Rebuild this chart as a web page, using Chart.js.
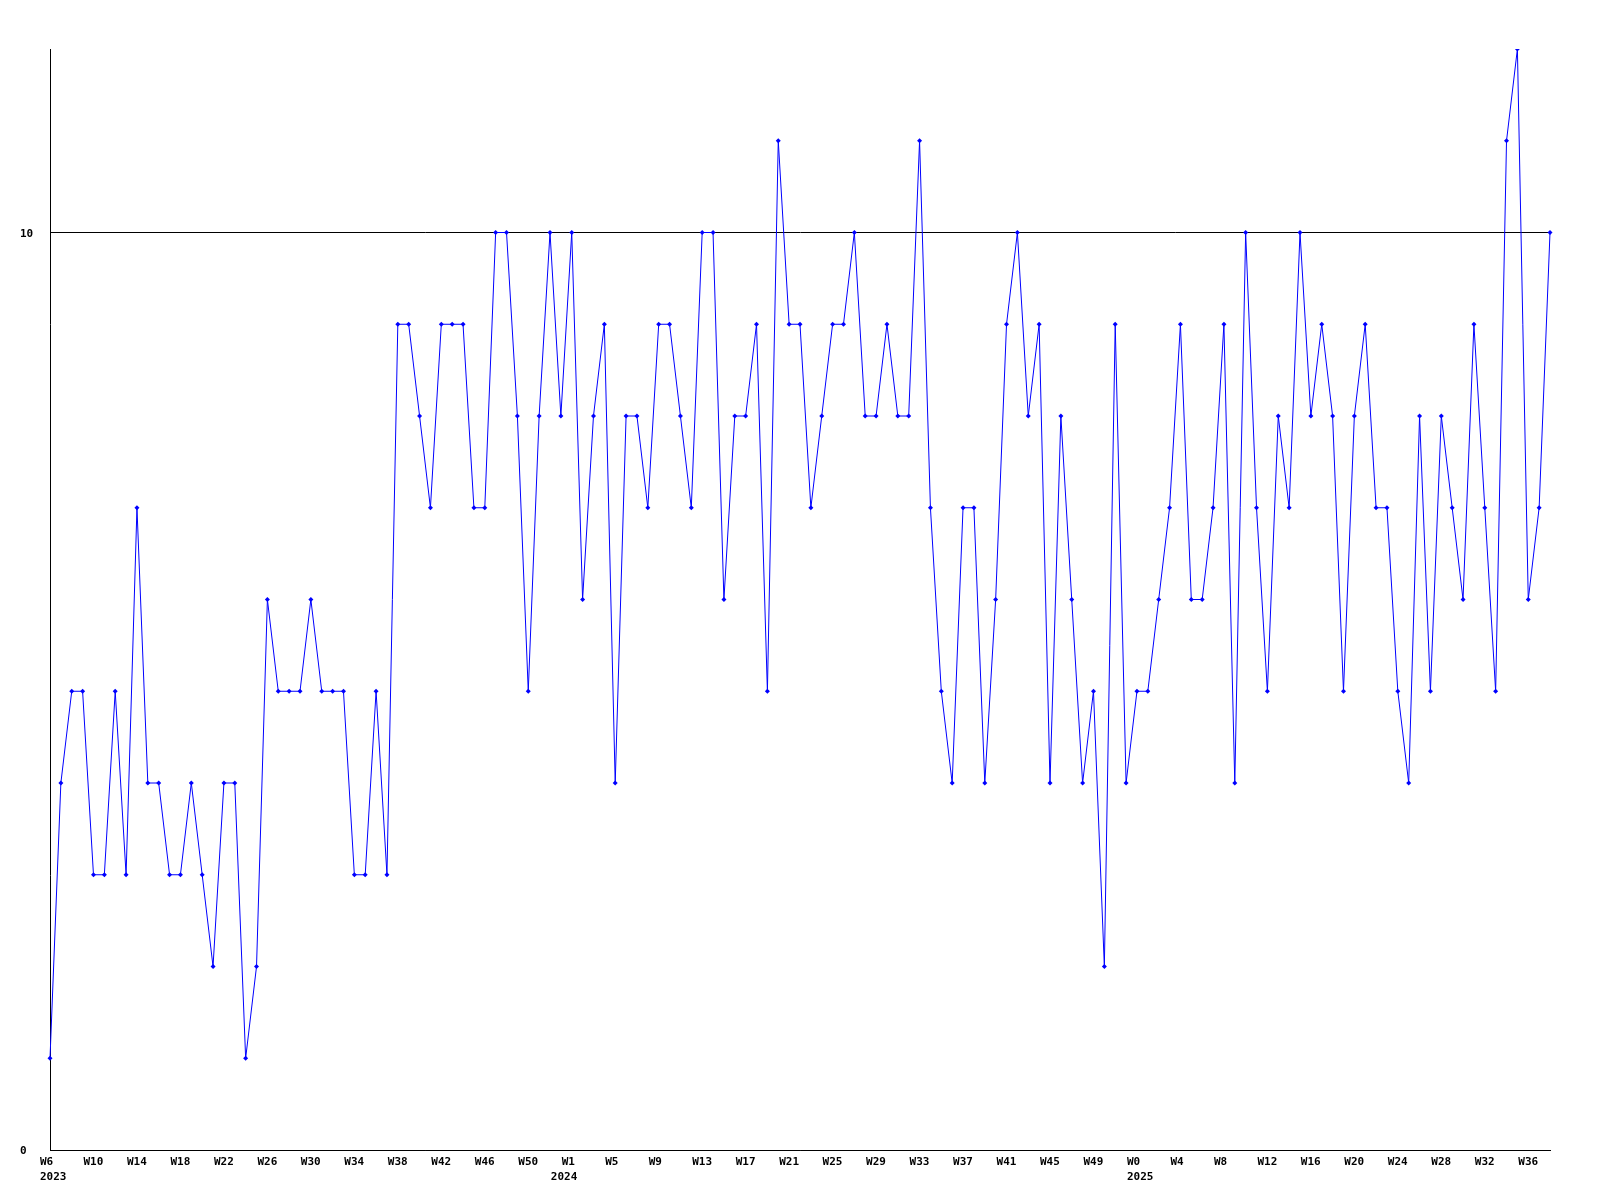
<!DOCTYPE html>
<html>
<head>
<meta charset="utf-8">
<script src="https://cdn.jsdelivr.net/npm/chart.js@4.4.1/dist/chart.umd.min.js"></script>
<style>
    html, body { margin: 0; padding: 0; background: #fff; }
    canvas { display: block; }
</style>
</head>
<body>
<canvas id="weeklyChart" width="1600" height="1200"></canvas>
<script>
// ── Data ──
const categories = [
    '2023-W6', '2023-W7', '2023-W8', '2023-W9', '2023-W10', '2023-W11', '2023-W12', '2023-W13', '2023-W14', '2023-W15',
    '2023-W16', '2023-W17', '2023-W18', '2023-W19', '2023-W20', '2023-W21', '2023-W22', '2023-W23', '2023-W24', '2023-W25',
    '2023-W26', '2023-W27', '2023-W28', '2023-W29', '2023-W30', '2023-W31', '2023-W32', '2023-W33', '2023-W34', '2023-W35',
    '2023-W36', '2023-W37', '2023-W38', '2023-W39', '2023-W40', '2023-W41', '2023-W42', '2023-W43', '2023-W44', '2023-W45',
    '2023-W46', '2023-W47', '2023-W48', '2023-W49', '2023-W50', '2023-W51', '2023-W52', '2024-W0', '2024-W1', '2024-W2',
    '2024-W3', '2024-W4', '2024-W5', '2024-W6', '2024-W7', '2024-W8', '2024-W9', '2024-W10', '2024-W11', '2024-W12',
    '2024-W13', '2024-W14', '2024-W15', '2024-W16', '2024-W17', '2024-W18', '2024-W19', '2024-W20', '2024-W21', '2024-W22',
    '2024-W23', '2024-W24', '2024-W25', '2024-W26', '2024-W27', '2024-W28', '2024-W29', '2024-W30', '2024-W31', '2024-W32',
    '2024-W33', '2024-W34', '2024-W35', '2024-W36', '2024-W37', '2024-W38', '2024-W39', '2024-W40', '2024-W41', '2024-W42',
    '2024-W43', '2024-W44', '2024-W45', '2024-W46', '2024-W47', '2024-W48', '2024-W49', '2024-W50', '2024-W51', '2024-W52',
    '2025-W0', '2025-W1', '2025-W2', '2025-W3', '2025-W4', '2025-W5', '2025-W6', '2025-W7', '2025-W8', '2025-W9',
    '2025-W10', '2025-W11', '2025-W12', '2025-W13', '2025-W14', '2025-W15', '2025-W16', '2025-W17', '2025-W18', '2025-W19',
    '2025-W20', '2025-W21', '2025-W22', '2025-W23', '2025-W24', '2025-W25', '2025-W26', '2025-W27', '2025-W28', '2025-W29',
    '2025-W30', '2025-W31', '2025-W32', '2025-W33', '2025-W34', '2025-W35', '2025-W36', '2025-W37', '2025-W38'
];

const weeklyValues = [
    1, 4, 5, 5, 3, 3, 5, 3, 7, 4,
    4, 3, 3, 4, 3, 2, 4, 4, 1, 2,
    6, 5, 5, 5, 6, 5, 5, 5, 3, 3,
    5, 3, 9, 9, 8, 7, 9, 9, 9, 7,
    7, 10, 10, 8, 5, 8, 10, 8, 10, 6,
    8, 9, 4, 8, 8, 7, 9, 9, 8, 7,
    10, 10, 6, 8, 8, 9, 5, 11, 9, 9,
    7, 8, 9, 9, 10, 8, 8, 9, 8, 8,
    11, 7, 5, 4, 7, 7, 4, 6, 9, 10,
    8, 9, 4, 8, 6, 4, 5, 2, 9, 4,
    5, 5, 6, 7, 9, 6, 6, 7, 9, 4,
    10, 7, 5, 8, 7, 10, 8, 9, 8, 5,
    8, 9, 7, 7, 5, 4, 8, 5, 8, 7,
    6, 9, 7, 5, 11, 12, 6, 7, 10
];

const yTickValues = [0, 10];
const labelEvery = 4;

const tickFont = { family: '"DejaVu Sans Mono", monospace', size: 11, weight: 'bold', lineHeight: '15px' };

// every 4th week gets its name; the first week of each year gets the year underneath
function xTickLabel(index) {
    const [year, week] = categories[index].split('-');
    const showWeek = index % labelEvery === 0;
    const newYear = index === 0 || categories[index - 1].split('-')[0] !== year;
    if (newYear) return [showWeek ? week : '', year];
    return showWeek ? week : null;
}

new Chart(document.getElementById('weeklyChart'), {
    type: 'line',
    data: {
        labels: categories,
        datasets: [{
            data: weeklyValues,
            borderColor: '#0000ff',
            borderWidth: 1,
            backgroundColor: '#0000ff',
            pointStyle: 'rectRot',
            pointRadius: 2.5,
            pointBorderWidth: 0,
            tension: 0,
            fill: false,
        }]
    },
    options: {
        responsive: false,
        animation: false,
        layout: { padding: { left: 20, top: 49, right: 50, bottom: 0 } },
        plugins: {
            legend: { display: false },
            tooltip: { enabled: false }
        },
        scales: {
            x: {
                offset: false,
                grid: { display: false, drawTicks: false },
                border: { display: true, color: '#000', width: 1 },
                ticks: {
                    autoSkip: false, maxRotation: 0, minRotation: 0,
                    align: 'start', labelOffset: -10, padding: 5,
                    color: '#000', font: tickFont,
                    callback: (v, i) => xTickLabel(i)
                },
                afterFit: s => { s.height = 50; }
            },
            y: {
                min: 0, max: 12,
                grid: { color: '#000', lineWidth: 1, drawTicks: false },
                border: { display: true, color: '#000', width: 1 },
                ticks: { crossAlign: 'far', padding: 0, labelOffset: 1.5, color: '#000', font: tickFont },
                afterBuildTicks: s => { s.ticks = yTickValues.map(v => ({ value: v })); },
                afterFit: s => { s.width = 30; }
            }
        }
    }
});
</script>
</body>
</html>
